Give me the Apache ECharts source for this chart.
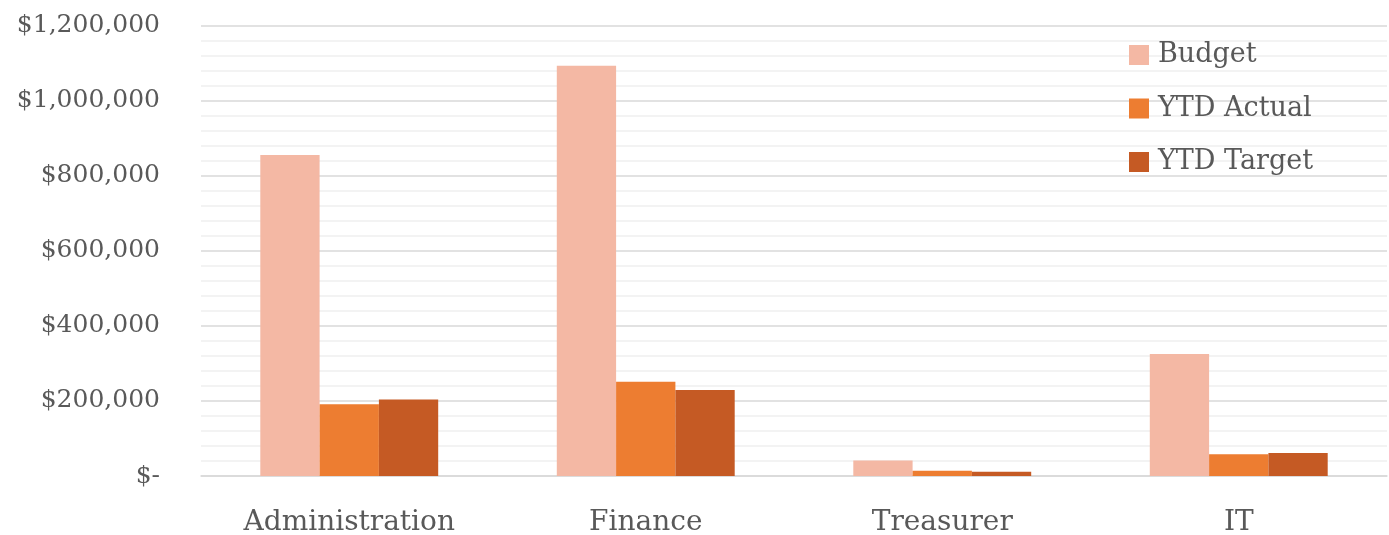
<!DOCTYPE html>
<html>
<head>
<meta charset="utf-8">
<script src="https://cdn.jsdelivr.net/npm/echarts@6/dist/echarts.min.js"></script>
<style>
  html, body { margin: 0; padding: 0; background: #fff; }
  #chart { width: 1389px; height: 535px; }
</style>
</head>
<body>
<div id="chart"></div>
<script>
// Department spending: annual budget vs. year-to-date actual and target
const departments = ['Administration', 'Finance', 'Treasurer', 'IT'];
const budget    = [855000, 1093000, 41000, 325000];
const ytdActual = [191000, 251000, 14000, 58000];
const ytdTarget = [204000, 229000, 11000, 61000];

const seriesNames  = ['Budget', 'YTD Actual', 'YTD Target'];
const seriesColors = ['#F4B8A4', '#ED7D31', '#C55A24'];

const FONT = '"Palatino Linotype", "Book Antiqua", Palatino, "DejaVu Serif", serif';
const TEXT = '#595959';

function money(v) {
  if (v === 0) return '$-';
  return '$' + v.toLocaleString('en-US');
}

const chart = echarts.init(document.getElementById('chart'), null, { renderer: 'canvas' });

chart.setOption({
  animation: false,
  textStyle: { fontFamily: FONT, color: TEXT },
  grid: { left: 201, right: 2, top: 25.5, bottom: 59, containLabel: false, outerBoundsMode: 'none' },
  legend: {
    orient: 'vertical',
    left: 1124,
    top: 36,
    padding: 5,
    itemWidth: 20,
    itemHeight: 20,
    itemGap: 25.5,
    icon: 'rect',
    textStyle: { fontFamily: FONT, fontSize: 27, color: TEXT, padding: [0, 0, 0, 4], lineHeight: 28 },
    data: seriesNames
  },
  xAxis: {
    type: 'category',
    data: departments,
    axisLine: { show: true, lineStyle: { color: '#D9D9D9', width: 1.5 } },
    axisTick: { show: false },
    axisLabel: { fontFamily: FONT, fontSize: 28, lineHeight: 28, color: TEXT, margin: 33 }
  },
  yAxis: {
    type: 'value',
    min: 0,
    max: 1200000,
    interval: 200000,
    axisLine: { show: false },
    axisTick: { show: false },
    axisLabel: { fontFamily: FONT, fontSize: 25, lineHeight: 25, color: TEXT, margin: 41, padding: [5, 0, 0, 0], formatter: money },
    splitLine: { show: true, lineStyle: { color: '#D9D9D9', width: 1.5 } },
    minorTick: { show: false, splitNumber: 5 },
    minorSplitLine: { show: true, lineStyle: { color: '#F0F0F0', width: 1.5 } }
  },
  series: [
    { name: seriesNames[0], type: 'bar', data: budget,    itemStyle: { color: seriesColors[0] }, barGap: '0%', barCategoryGap: '40%' },
    { name: seriesNames[1], type: 'bar', data: ytdActual, itemStyle: { color: seriesColors[1] }, barGap: '0%', barCategoryGap: '40%' },
    { name: seriesNames[2], type: 'bar', data: ytdTarget, itemStyle: { color: seriesColors[2] }, barGap: '0%', barCategoryGap: '40%' }
  ]
});
</script>
</body>
</html>
